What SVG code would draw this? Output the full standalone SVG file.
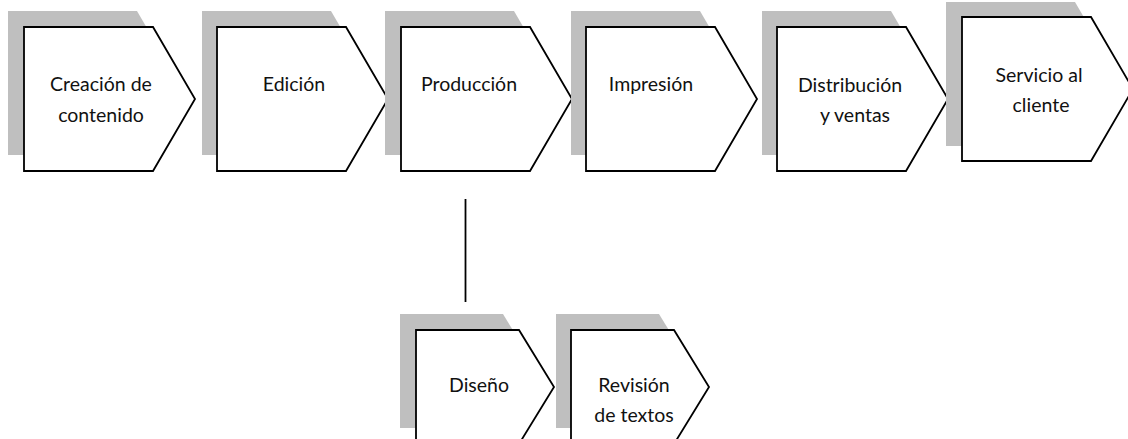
<svg xmlns="http://www.w3.org/2000/svg" width="1128" height="439" viewBox="0 0 1128 439">
<style>
.sh{fill:#bfbfbf;stroke:none}
.bx{fill:#fff;stroke:#000;stroke-width:1.8;stroke-linejoin:miter}
.t{font-family:Lato,"Liberation Sans",Arial,sans-serif;font-size:19.5px;fill:#111;text-anchor:middle}
.ln{stroke:#000;stroke-width:1.8;fill:none}
</style>
<defs>
<polygon id="big" points="0,0 129,0 171,72 129,144 0,144"/>
<polygon id="small" points="0,0 103,0 138,57 103,114 0,114"/>
</defs>
<g id="node-creacion">
<use href="#big" class="sh" x="8" y="11"/>
<use href="#big" class="bx" x="24" y="27"/>
<text class="t" x="101" y="91">Creación de</text>
<text class="t" x="101" y="122">contenido</text>
</g>
<g id="node-edicion">
<use href="#big" class="sh" x="202" y="11"/>
<use href="#big" class="bx" x="217" y="27"/>
<text class="t" x="294" y="91">Edición</text>
</g>
<g id="node-produccion">
<use href="#big" class="sh" x="385" y="11"/>
<use href="#big" class="bx" x="401" y="27"/>
<text class="t" x="469" y="91">Producción</text>
</g>
<g id="node-impresion">
<use href="#big" class="sh" x="571" y="11"/>
<use href="#big" class="bx" x="586" y="27"/>
<text class="t" x="651" y="91">Impresión</text>
</g>
<g id="node-distribucion">
<use href="#big" class="sh" x="762" y="11"/>
<use href="#big" class="bx" x="777" y="27"/>
<text class="t" x="850" y="92">Distribución</text>
<text class="t" x="855" y="122">y ventas</text>
</g>
<g id="node-servicio">
<use href="#big" class="sh" x="946" y="2"/>
<use href="#big" class="bx" x="962" y="17"/>
<text class="t" x="1039" y="82">Servicio al</text>
<text class="t" x="1041" y="112">cliente</text>
</g>
<g id="node-diseno">
<use href="#small" class="sh" x="400" y="314"/>
<use href="#small" class="bx" x="416" y="330"/>
<text class="t" x="479" y="392">Diseño</text>
</g>
<g id="node-revision">
<use href="#small" class="sh" x="556" y="314"/>
<use href="#small" class="bx" x="571" y="330"/>
<text class="t" x="634" y="392">Revisión</text>
<text class="t" x="634" y="422">de textos</text>
</g>
<g id="connectors">
<line class="ln" x1="465.5" y1="199" x2="465.5" y2="302"/>
</g>
</svg>
